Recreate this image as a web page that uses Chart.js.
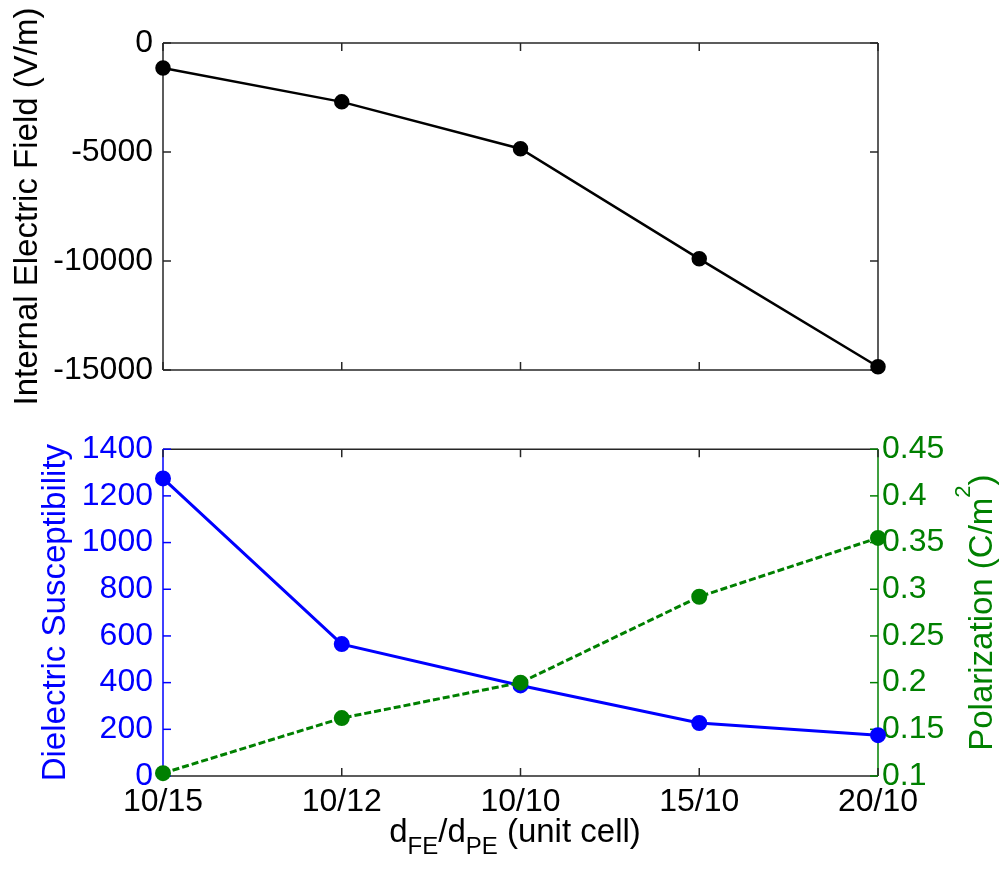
<!DOCTYPE html>
<html>
<head>
<meta charset="utf-8">
<script src="https://cdn.jsdelivr.net/npm/chart.js@4/dist/chart.umd.min.js"></script>
<style>
  html, body { margin: 0; padding: 0; background: #fff; }
  #wrap { position: relative; width: 1003px; height: 869px; }
  #fieldBox { position: absolute; left: 0; top: 0; width: 1003px; height: 420px; }
  #dielBox { position: absolute; left: 0; top: 420px; width: 1003px; height: 449px; }
</style>
</head>
<body>
<div id="wrap">
  <div id="fieldBox"><canvas id="fieldChart" width="1003" height="420"></canvas></div>
  <div id="dielBox"><canvas id="dielChart" width="1003" height="449"></canvas></div>
</div>
<script>
// thickness ratio d_FE / d_PE
const ratios = ['10/15', '10/12', '10/10', '15/10', '20/10'];
// internal electric field, V/m
const fieldValues = [-1150, -2700, -4850, -9900, -14850];
// dielectric susceptibility
const susceptValues = [1275, 565, 388, 227, 175];
// polarization, C/m^2
const polarValues = [0.103, 0.162, 0.200, 0.292, 0.355];

const FONT = 'Arial, "Liberation Sans", sans-serif';
const BLUE = '#0000ff';
const GREEN = '#008000';
const AXIS = '#262626';
const TITLE_SIZE = 33;

function plain(v) { return String(Number(v.toFixed(2))); }

// draw a run of text pieces [text, size, shift] centred on cx along the baseline
function drawRuns(ctx, parts, cx, baseline) {
    let total = 0;
    parts.forEach(p => { ctx.font = p[1] + 'px ' + FONT; total += ctx.measureText(p[0]).width; });
    let x = cx - total / 2;
    parts.forEach(p => {
        ctx.font = p[1] + 'px ' + FONT;
        ctx.fillText(p[0], x, baseline + p[2]);
        x += ctx.measureText(p[0]).width;
    });
}

// boxed axes with inward tick marks, as MATLAB draws them
const frame = {
    id: 'frame',
    beforeDatasetsDraw(chart, args, opts) {
        const ctx = chart.ctx;
        const a = chart.chartArea;
        const len = 8;
        ctx.save();
        ctx.lineWidth = 1.5;
        const seg = (x1, y1, x2, y2, c) => {
            ctx.strokeStyle = c;
            ctx.beginPath();
            ctx.moveTo(x1, y1);
            ctx.lineTo(x2, y2);
            ctx.stroke();
        };
        seg(a.left, a.top, a.right, a.top, AXIS);
        seg(a.left, a.bottom, a.right, a.bottom, AXIS);
        seg(a.left, a.top, a.left, a.bottom, opts.leftColor);
        seg(a.right, a.top, a.right, a.bottom, opts.rightColor);

        const xs = chart.scales.x;
        xs.ticks.forEach((t, i) => {
            const px = xs.getPixelForTick(i);
            seg(px, a.bottom, px, a.bottom - len, AXIS);
            seg(px, a.top, px, a.top + len, AXIS);
        });
        const ys = chart.scales.y;
        const y1 = chart.scales.y1;
        ys.ticks.forEach(t => {
            const py = ys.getPixelForValue(t.value);
            seg(a.left, py, a.left + len, py, opts.leftColor);
            if (!y1) seg(a.right, py, a.right - len, py, opts.rightColor);
        });
        if (y1) {
            y1.ticks.forEach(t => {
                const py = y1.getPixelForValue(t.value);
                seg(a.right, py, a.right - len, py, opts.rightColor);
            });
        }
        ctx.restore();
    }
};

// x axis title with subscripts, right axis title with superscript
const extraTitles = {
    id: 'extraTitles',
    afterDraw(chart) {
        const ctx = chart.ctx;
        const a = chart.chartArea;
        ctx.save();
        ctx.textBaseline = 'alphabetic';
        ctx.textAlign = 'left';

        ctx.fillStyle = '#000';
        drawRuns(ctx, [
            ['d', TITLE_SIZE, 0], ['FE', 24, 12], ['/d', TITLE_SIZE, 0], ['PE', 24, 12], [' (unit cell)', TITLE_SIZE, 0]
        ], 515, 422);

        ctx.fillStyle = GREEN;
        ctx.translate(992, (a.top + a.bottom) / 2);
        ctx.rotate(-Math.PI / 2);
        drawRuns(ctx, [
            ['Polarization (C/m', TITLE_SIZE, 0], ['2', 22, -22], [')', TITLE_SIZE, 0]
        ], 0, 0);
        ctx.restore();
    }
};

Chart.defaults.font.family = FONT;
Chart.defaults.font.size = 32;

const noGrid = { display: false, drawTicks: false };

// Internal electric field
new Chart(document.getElementById('fieldChart').getContext('2d'), {
    type: 'line',
    data: {
        labels: ratios,
        datasets: [{
            data: fieldValues,
            borderColor: '#000',
            backgroundColor: '#000',
            borderWidth: 2.5,
            pointRadius: 6.5,
            pointHoverRadius: 6.5,
            tension: 0,
            clip: false
        }]
    },
    options: {
        responsive: false,
        animation: false,
        events: [],
        layout: { padding: { top: 43, right: 125, left: 0, bottom: 0 } },
        plugins: {
            legend: { display: false },
            tooltip: { enabled: false },
            frame: { leftColor: AXIS, rightColor: AXIS }
        },
        scales: {
            x: {
                offset: false,
                grid: noGrid,
                border: { display: false },
                ticks: { display: false },
                afterFit(s) { s.height = 50; }
            },
            y: {
                min: -15000,
                max: 0,
                grid: noGrid,
                border: { display: false },
                ticks: {
                    stepSize: 5000,
                    color: '#000',
                    padding: 10,
                    callback: v => String(v)
                },
                title: {
                    display: true,
                    text: 'Internal Electric Field (V/m)',
                    color: '#000',
                    font: { size: TITLE_SIZE },
                    padding: 8
                },
                afterFit(s) { s.width = 163; }
            }
        }
    },
    plugins: [frame]
});

// Dielectric susceptibility and polarization
new Chart(document.getElementById('dielChart').getContext('2d'), {
    type: 'line',
    data: {
        labels: ratios,
        datasets: [{
            data: polarValues,
            yAxisID: 'y1',
            order: 0,
            borderColor: GREEN,
            backgroundColor: GREEN,
            borderWidth: 3,
            borderDash: [7, 3],
            pointRadius: 6.5,
            pointHoverRadius: 6.5,
            tension: 0,
            clip: false
        }, {
            data: susceptValues,
            yAxisID: 'y',
            order: 1,
            borderColor: BLUE,
            backgroundColor: BLUE,
            borderWidth: 3,
            pointRadius: 6.5,
            pointHoverRadius: 6.5,
            tension: 0,
            clip: false
        }]
    },
    options: {
        responsive: false,
        animation: false,
        events: [],
        layout: { padding: { top: 28, right: 0, left: 0, bottom: 0 } },
        plugins: {
            legend: { display: false },
            tooltip: { enabled: false },
            frame: { leftColor: BLUE, rightColor: GREEN }
        },
        scales: {
            x: {
                offset: false,
                grid: noGrid,
                border: { display: false },
                ticks: { color: '#000', padding: 7, autoSkip: false, maxRotation: 0 },
                afterFit(s) { s.height = 93; }
            },
            y: {
                position: 'left',
                min: 0,
                max: 1400,
                grid: noGrid,
                border: { display: false },
                ticks: {
                    stepSize: 200,
                    color: BLUE,
                    padding: 10,
                    callback: v => String(v)
                },
                title: {
                    display: true,
                    text: 'Dielectric Susceptibility',
                    color: BLUE,
                    font: { size: TITLE_SIZE },
                    padding: 36
                },
                afterFit(s) { s.width = 163; }
            },
            y1: {
                position: 'right',
                min: 0.1,
                max: 0.45,
                grid: noGrid,
                border: { display: false },
                ticks: {
                    stepSize: 0.05,
                    color: GREEN,
                    padding: 4,
                    callback: v => plain(v)
                },
                afterFit(s) { s.width = 125; }
            }
        }
    },
    plugins: [frame, extraTitles]
});
</script>
</body>
</html>
